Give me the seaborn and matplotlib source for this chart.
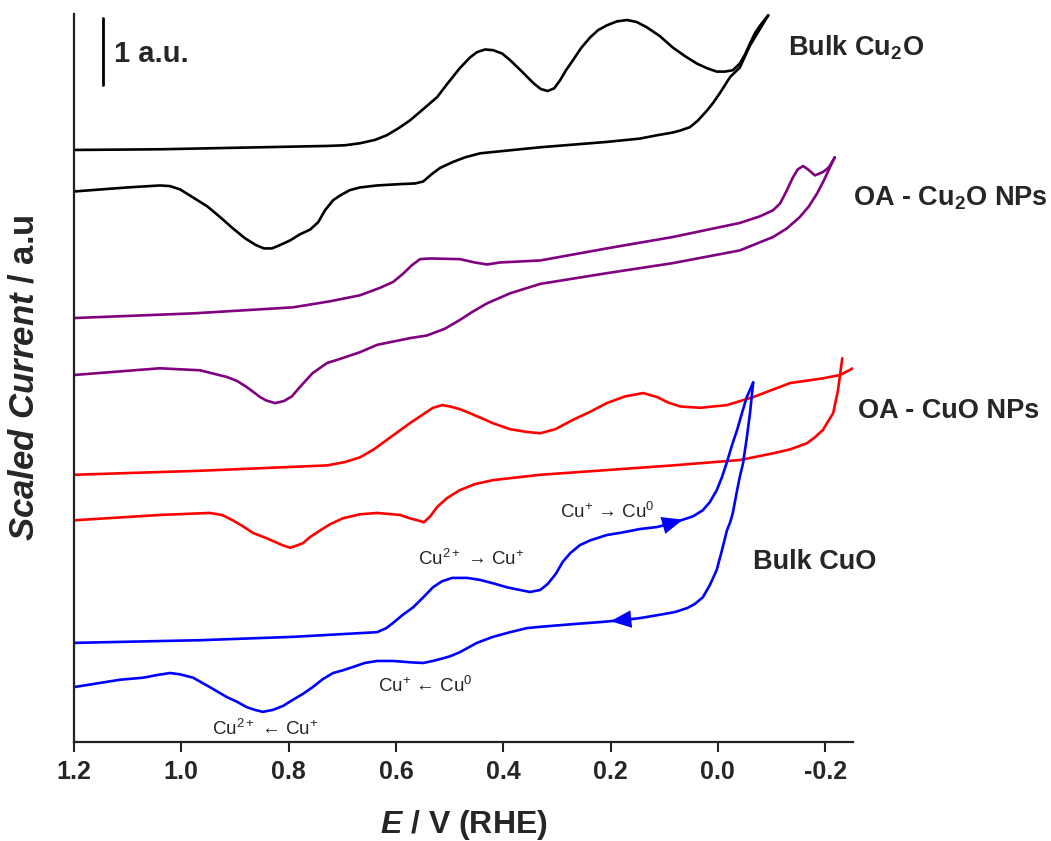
import numpy as np
import pandas as pd
import matplotlib
matplotlib.use("Agg")
import matplotlib.pyplot as plt
import seaborn as sns

# ---------------- data (E in V vs RHE, scaled current in a.u.) ----------------
# Bulk Cu2O
cu2o_fwd_E = [1.200, 1.040, 0.853, 0.728, 0.695, 0.667, 0.639, 0.617, 0.596, 0.574, 0.549, 0.523, 0.503,
              0.481, 0.462, 0.449, 0.434, 0.419, 0.402, 0.387, 0.365, 0.344, 0.330, 0.317, 0.305, 0.294,
              0.283, 0.270, 0.255, 0.238, 0.223, 0.207, 0.188, 0.169, 0.151, 0.132, 0.108, 0.084, 0.061,
              0.039, 0.020, 0.002, -0.013, -0.028, -0.041, -0.051, -0.060, -0.069, -0.079, -0.094]
cu2o_fwd_I = [8.84, 8.85, 8.88, 8.90, 8.91, 8.94, 8.99, 9.06, 9.16, 9.28, 9.45, 9.63, 9.84,
              10.06, 10.22, 10.30, 10.34, 10.33, 10.28, 10.18, 10.01, 9.84, 9.75, 9.72, 9.76, 9.88,
              10.03, 10.18, 10.36, 10.52, 10.63, 10.70, 10.76, 10.78, 10.75, 10.67, 10.54, 10.37, 10.24,
              10.13, 10.06, 10.01, 10.01, 10.03, 10.13, 10.27, 10.43, 10.58, 10.70, 10.85]
cu2o_rev_E = [-0.094, -0.060, -0.041, -0.023, -0.004, 0.009, 0.020, 0.037, 0.052, 0.070, 0.084, 0.113,
              0.145, 0.207, 0.331, 0.406, 0.443, 0.471, 0.494, 0.518, 0.533, 0.549, 0.564, 0.592, 0.635,
              0.667, 0.686, 0.704, 0.717, 0.732, 0.745, 0.760, 0.779, 0.797, 0.816, 0.831, 0.846, 0.861,
              0.881, 0.904, 0.928, 0.952, 0.978, 1.002, 1.021, 1.040, 1.101, 1.200]
cu2o_rev_I = [10.85, 10.40, 10.07, 9.93, 9.69, 9.54, 9.43, 9.28, 9.18, 9.13, 9.10, 9.06,
              9.01, 8.96, 8.88, 8.82, 8.79, 8.73, 8.66, 8.57, 8.48, 8.37, 8.34, 8.33, 8.31,
              8.28, 8.24, 8.16, 8.09, 7.94, 7.76, 7.65, 7.58, 7.49, 7.42, 7.37, 7.37, 7.42,
              7.52, 7.67, 7.84, 8.00, 8.13, 8.25, 8.30, 8.31, 8.28, 8.22]

# OA - Cu2O NPs
oacu2o_fwd_E = [1.200, 0.978, 0.792, 0.723, 0.667, 0.630, 0.605, 0.587, 0.570, 0.555, 0.536, 0.481, 0.453,
                0.430, 0.406, 0.331, 0.207, 0.084, -0.041, -0.079, -0.103, -0.116, -0.127, -0.140, -0.149,
                -0.159, -0.168, -0.181, -0.196, -0.207, -0.218]
oacu2o_fwd_I = [6.33, 6.40, 6.49, 6.58, 6.67, 6.78, 6.87, 6.99, 7.12, 7.21, 7.22, 7.21, 7.16,
                7.13, 7.16, 7.19, 7.37, 7.54, 7.75, 7.85, 7.94, 8.04, 8.21, 8.43, 8.55,
                8.60, 8.55, 8.46, 8.51, 8.58, 8.73]
oacu2o_rev_E = [-0.218, -0.209, -0.198, -0.185, -0.170, -0.153, -0.129, -0.103, -0.041, 0.084, 0.207, 0.331,
                0.387, 0.430, 0.458, 0.481, 0.509, 0.542, 0.574, 0.635, 0.667, 0.704, 0.728, 0.755, 0.779,
                0.794, 0.809, 0.825, 0.842, 0.853, 0.878, 0.896, 0.915, 0.965, 1.040, 1.200]
oacu2o_rev_I = [8.73, 8.58, 8.39, 8.19, 8.00, 7.84, 7.67, 7.54, 7.34, 7.15, 7.00, 6.84,
                6.70, 6.55, 6.42, 6.30, 6.17, 6.07, 6.03, 5.93, 5.82, 5.72, 5.66, 5.51, 5.30,
                5.16, 5.09, 5.06, 5.10, 5.15, 5.30, 5.39, 5.45, 5.55, 5.58, 5.48]

# OA - CuO NPs
oacuo_fwd_E = [1.200, 0.965, 0.728, 0.695, 0.667, 0.641, 0.617, 0.574, 0.531, 0.514, 0.499, 0.481, 0.462,
               0.419, 0.387, 0.356, 0.331, 0.303, 0.270, 0.238, 0.207, 0.173, 0.139, 0.113, 0.093, 0.070,
               0.033, -0.017, -0.066, -0.135, -0.196, -0.228, -0.252]
oacuo_fwd_I = [3.99, 4.05, 4.13, 4.18, 4.25, 4.37, 4.51, 4.76, 4.99, 5.03, 5.01, 4.97, 4.91,
               4.76, 4.67, 4.63, 4.61, 4.67, 4.81, 4.93, 5.06, 5.16, 5.21, 5.15, 5.07, 5.01,
               4.99, 5.03, 5.15, 5.36, 5.43, 5.48, 5.58]
oacuo_rev_E = [-0.232, -0.224, -0.215, -0.205, -0.196, -0.181, -0.166, -0.135, -0.103, -0.041, 0.084, 0.207,
               0.331, 0.419, 0.453, 0.481, 0.505, 0.523, 0.536, 0.548, 0.555, 0.574, 0.592, 0.635, 0.667,
               0.699, 0.723, 0.741, 0.760, 0.773, 0.786, 0.797, 0.812, 0.840, 0.866, 0.885, 0.904, 0.924,
               0.947, 1.040, 1.200]
oacuo_rev_I = [5.73, 5.25, 4.91, 4.78, 4.66, 4.55, 4.46, 4.37, 4.31, 4.21, 4.13, 4.06,
               3.99, 3.91, 3.85, 3.76, 3.64, 3.51, 3.37, 3.28, 3.30, 3.34, 3.39, 3.42, 3.40,
               3.34, 3.25, 3.16, 3.06, 2.97, 2.93, 2.90, 2.94, 3.04, 3.12, 3.22, 3.31, 3.39,
               3.42, 3.39, 3.31]

# Bulk CuO
cuo_fwd_E = [1.200, 0.965, 0.792, 0.635, 0.618, 0.605, 0.587, 0.568, 0.549, 0.531, 0.514, 0.495, 0.467,
             0.443, 0.419, 0.393, 0.369, 0.350, 0.331, 0.317, 0.302, 0.289, 0.275, 0.257, 0.238, 0.207,
             0.177, 0.145, 0.113, 0.084, 0.061, 0.046, 0.028, 0.015, 0.002, -0.008, -0.017, -0.026,
             -0.036, -0.045, -0.054, -0.066]
cuo_fwd_I = [1.48, 1.52, 1.57, 1.64, 1.70, 1.78, 1.90, 2.01, 2.16, 2.31, 2.40, 2.45, 2.45,
             2.42, 2.37, 2.31, 2.27, 2.24, 2.27, 2.36, 2.51, 2.69, 2.82, 2.94, 3.01, 3.09,
             3.13, 3.18, 3.21, 3.27, 3.33, 3.37, 3.46, 3.58, 3.76, 3.96, 4.18, 4.42,
             4.66, 4.91, 5.15, 5.37]
cuo_rev_E = [-0.066, -0.060, -0.054, -0.047, -0.041, -0.036, -0.028, -0.023, -0.017, -0.008, 0.002, 0.015,
             0.028, 0.043, 0.057, 0.080, 0.108, 0.145, 0.177, 0.220, 0.270, 0.331, 0.356, 0.387, 0.419,
             0.449, 0.481, 0.499, 0.512, 0.531, 0.549, 0.574, 0.605, 0.635, 0.658, 0.680, 0.699, 0.717,
             0.736, 0.755, 0.773, 0.792, 0.810, 0.829, 0.848, 0.863, 0.878, 0.896, 0.915, 0.947, 0.978,
             1.002, 1.021, 1.045, 1.071, 1.114, 1.200]
cuo_rev_I = [5.37, 4.91, 4.54, 4.16, 3.96, 3.76, 3.42, 3.28, 3.16, 2.87, 2.57, 2.34,
             2.16, 2.06, 2.00, 1.94, 1.90, 1.85, 1.82, 1.79, 1.76, 1.72, 1.70, 1.64, 1.57,
             1.48, 1.34, 1.28, 1.25, 1.21, 1.18, 1.19, 1.21, 1.21, 1.18, 1.12, 1.07, 1.03,
             0.94, 0.82, 0.72, 0.63, 0.54, 0.48, 0.45, 0.48, 0.52, 0.60, 0.67, 0.82, 0.96,
             1.01, 1.03, 1.00, 0.96, 0.93, 0.82]

samples = ["Bulk Cu2O", "OA - Cu2O NPs", "OA - CuO NPs", "Bulk CuO"]
colors = ["#000000", "#800080", "#ff0000", "#0000ff"]
x_ticks = [1.2, 1.0, 0.8, 0.6, 0.4, 0.2, 0.0, -0.2]
x_tick_labels = ["1.2", "1.0", "0.8", "0.6", "0.4", "0.2", "0.0", "-0.2"]
scale_bar_E = 1.146
scale_bar_bottom = 9.81
scale_bar_length = 1.0

# ---------------- build long table ----------------
branches = {
    "Bulk Cu2O": [(cu2o_fwd_E, cu2o_fwd_I), (cu2o_rev_E, cu2o_rev_I)],
    "OA - Cu2O NPs": [(oacu2o_fwd_E, oacu2o_fwd_I), (oacu2o_rev_E, oacu2o_rev_I)],
    "OA - CuO NPs": [(oacuo_fwd_E, oacuo_fwd_I), (oacuo_rev_E, oacuo_rev_I)],
    "Bulk CuO": [(cuo_fwd_E, cuo_fwd_I), (cuo_rev_E, cuo_rev_I)],
}
frames = []
for s in samples:
    for k, (E, I) in enumerate(branches[s]):
        frames.append(pd.DataFrame({"E": E, "I": I, "sample": s, "branch": f"{s}-{k}"}))
df = pd.concat(frames, ignore_index=True)

# ---------------- style ----------------
sns.set_theme(style="ticks")
plt.rcParams["font.family"] = ["Liberation Sans", "DejaVu Sans"]
plt.rcParams["axes.unicode_minus"] = False
plt.rcParams["mathtext.fontset"] = "custom"
plt.rcParams["mathtext.rm"] = "Liberation Sans"
plt.rcParams["mathtext.it"] = "Liberation Sans:italic:bold"
plt.rcParams["mathtext.bf"] = "Liberation Sans:bold"

W, H = 1051, 841
fig = plt.figure(figsize=(W / 100, H / 100), dpi=100)
ax = fig.add_axes([74 / W, 1 - 742 / H, (853 - 74) / W, (742 - 14) / H])

sns.lineplot(data=df, x="E", y="I", hue="sample", hue_order=samples, units="branch",
             estimator=None, sort=False, palette=colors, linewidth=1.9, legend=False, ax=ax)

ax.set_xlim(1.2, -0.252)
ax.set_ylim(0, 10.87)
ax.set_xticks(x_ticks)
ax.set_xticklabels(x_tick_labels, fontsize=18, fontweight="bold")
ax.set_yticks([])
ax.tick_params(axis="x", direction="out", length=7, width=1.5, pad=6, color="#222222")
for sp in ["top", "right"]:
    ax.spines[sp].set_visible(False)
for sp in ["left", "bottom"]:
    ax.spines[sp].set_linewidth(1.6)
    ax.spines[sp].set_color("#222222")

ax.set_xlabel(r"$E$ / V (RHE)", fontsize=23, fontweight="bold", labelpad=17)
ax.set_ylabel(r"$Scaled\ Current$ / a.u", fontsize=25, fontweight="bold", labelpad=24)

# scale bar
ax.plot([scale_bar_E, scale_bar_E], [scale_bar_bottom, scale_bar_bottom + scale_bar_length],
        color="black", lw=2)


def ftext(px, py, s, **kw):
    fig.text(px / W, 1 - py / H, s, va="baseline", ha="left", **kw)


ftext(114, 62, "1 a.u.", fontsize=21, fontweight="bold")
ftext(788, 55, r"Bulk Cu$_{\mathbf{2}}$O", fontsize=19.5, fontweight="bold")
ftext(853, 205, r"OA - Cu$_{\mathbf{2}}$O NPs", fontsize=19.5, fontweight="bold")
ftext(858, 418, "OA - CuO NPs", fontsize=19.5, fontweight="bold")
ftext(753, 569, "Bulk CuO", fontsize=19.5, fontweight="bold")

ftext(560, 518, r"Cu$^{\mathrm{+}}$ → Cu$^{\mathrm{0}}$", fontsize=13.5)
ftext(418, 565, r"Cu$^{\mathrm{2+}}$ → Cu$^{\mathrm{+}}$", fontsize=13.5)
ftext(378, 692, r"Cu$^{\mathrm{+}}$ ← Cu$^{\mathrm{0}}$", fontsize=13.5)
ftext(212, 735, r"Cu$^{\mathrm{2+}}$ ← Cu$^{\mathrm{+}}$", fontsize=13.5)

# direction arrows on the Bulk CuO scan, placed on the measured branches
fE = np.array(cuo_fwd_E)[::-1]
fI = np.array(cuo_fwd_I)[::-1]
rE = np.array(cuo_rev_E)
rI = np.array(cuo_rev_I)
arrow_style = "-|>,head_length=1.0,head_width=0.42"
# forward scan runs toward negative E (right), reverse scan toward positive E (left)
for (Et, Eb, EE, II) in [(0.065, 0.11, fE, fI), (0.200, 0.155, rE, rI)]:
    ax.annotate("", xy=(Et, np.interp(Et, EE, II)), xytext=(Eb, np.interp(Eb, EE, II)),
                arrowprops=dict(arrowstyle=arrow_style, color="#0000ff", lw=0,
                                shrinkA=0, shrinkB=0, mutation_scale=15))

fig.savefig("out.png", dpi=100)
